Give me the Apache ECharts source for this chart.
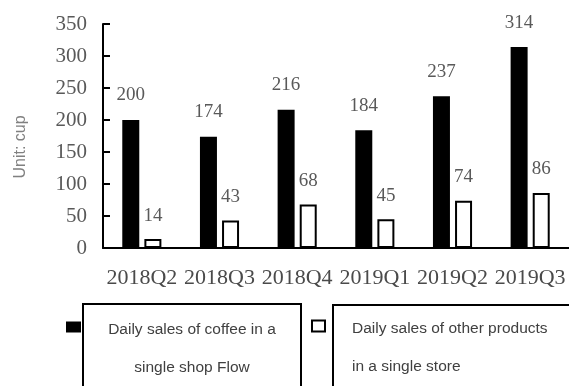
<!DOCTYPE html>
<html>
<head>
<meta charset="utf-8">
<script src="https://cdn.jsdelivr.net/npm/echarts@6/dist/echarts.min.js"></script>
<style>
  html, body { margin: 0; padding: 0; background: #fff; }
  #chart { width: 569px; height: 386px; }
</style>
</head>
<body>
<div id="chart"></div>
<script>
// Quarterly per-store daily sales (cups)
const quarters = ['2018Q2', '2018Q3', '2018Q4', '2019Q1', '2019Q2', '2019Q3'];
const coffeeSales = [200, 174, 216, 184, 237, 314];
const otherSales = [14, 43, 68, 45, 74, 86];
const yTicks = [0, 50, 100, 150, 200, 250, 300, 350];

const coffeeName = 'Daily sales of coffee in a single shop Flow';
const otherName = 'Daily sales of other products in a single store';
const coffeeLines = ['Daily sales of coffee in a', 'single shop Flow'];
const otherLines = ['Daily sales of other products', 'in a single store'];

const serif = '"Liberation Serif", "Times New Roman", serif';
const sans = '"Liberation Sans", Arial, sans-serif';

const chart = echarts.init(document.getElementById('chart'), null, { renderer: 'canvas' });

function legendText(lines) {
  return lines.map(l => '{t|' + l + '}').join('\n');
}

const option = {
  animation: false,
  backgroundColor: '#fff',
  grid: { left: 103, top: 24, width: 470, height: 224, containLabel: false },
  xAxis: {
    type: 'category',
    data: quarters,
    axisLine: { lineStyle: { color: '#000', width: 2 } },
    axisTick: { inside: true, length: 7, lineStyle: { color: '#000', width: 2 } },
    axisLabel: { color: '#4a4a4a', fontFamily: serif, fontSize: 22, margin: 19, interval: 0 }
  },
  yAxis: {
    type: 'value',
    min: yTicks[0],
    max: yTicks[yTicks.length - 1],
    interval: 50,
    name: 'Unit: cup',
    nameLocation: 'middle',
    nameGap: 74,
    nameTextStyle: { color: '#808080', fontFamily: sans, fontSize: 16, padding: [0, 22, 0, 0] },
    axisLine: { show: true, lineStyle: { color: '#000', width: 2 } },
    axisTick: { show: true, inside: true, length: 7, lineStyle: { color: '#000', width: 2 } },
    axisLabel: { color: '#595959', fontFamily: serif, fontSize: 21, margin: 16 },
    splitLine: { show: false }
  },
  legend: [
    {
      data: [{ name: coffeeName, itemStyle: { color: '#000', borderWidth: 0 } }],
      left: 66, top: 267, padding: 0,
      icon: 'rect', itemWidth: 15, itemHeight: 11,
      selectedMode: false,
      formatter: () => legendText(coffeeLines),
      textStyle: {
        width: 212, padding: [44, 0, 0, 0], lineHeight: 38,
        rich: { t: { align: 'center', color: '#404040', fontFamily: sans, fontSize: 15.5, lineHeight: 38 } }
      }
    },
    {
      data: [{ name: otherName, itemStyle: { color: '#fff', borderColor: '#000', borderWidth: 2 } }],
      left: 311, top: 266, padding: 0,
      icon: 'rect', itemWidth: 13, itemHeight: 11,
      selectedMode: false,
      formatter: () => legendText(otherLines),
      textStyle: {
        padding: [44, 0, 0, 22], lineHeight: 38,
        rich: { t: { align: 'left', color: '#404040', fontFamily: sans, fontSize: 15.5, lineHeight: 38 } }
      }
    }
  ],
  graphic: [
    { type: 'rect', silent: true, shape: { x: 83, y: 304, width: 218, height: 120 },
      style: { fill: 'none', stroke: '#000', lineWidth: 2 } },
    { type: 'rect', silent: true, shape: { x: 333, y: 305, width: 260, height: 120 },
      style: { fill: 'none', stroke: '#000', lineWidth: 2 } }
  ],
  series: [
    {
      name: coffeeName,
      type: 'bar',
      data: coffeeSales,
      barWidth: 17,
      barGap: '30%',
      itemStyle: { color: '#000' },
      label: { show: true, position: 'top', distance: 15, color: '#595959', fontFamily: serif, fontSize: 19 }
    },
    {
      name: otherName,
      type: 'bar',
      data: otherSales,
      barWidth: 17,
      itemStyle: { color: '#fff', borderColor: '#000', borderWidth: 2 },
      label: { show: true, position: 'top', distance: 14, color: '#595959', fontFamily: serif, fontSize: 19 }
    }
  ]
};

chart.setOption(option);
</script>
</body>
</html>
